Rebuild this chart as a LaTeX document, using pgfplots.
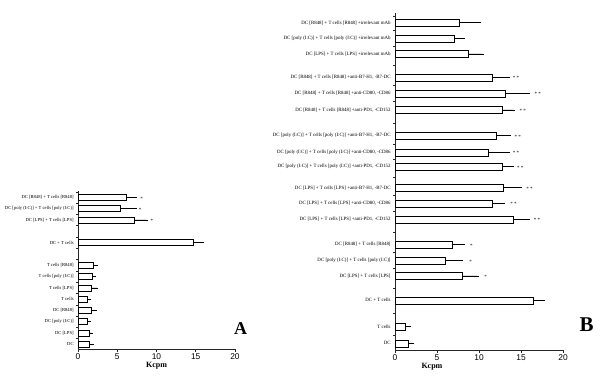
\documentclass[border=0pt]{standalone}
\usepackage{pgfplots}
\pgfplotsset{compat=1.18}
\usepackage{pgfplotstable}
\usepackage{fontspec}
\setmainfont{Liberation Serif}
\setsansfont{Liberation Sans}

\pgfplotstableread{
y v e
4.7 1.45 0.35
16.0 1.4 0.3
27.3 1.2 0.2
38.6 1.7 0.5
49.9 1.2 0.3
61.2 1.7 0.7
72.5 1.8 0.3
83.8 2.0 0.3
106.4 14.7 1.1
129.0 7.2 1.5
140.3 5.4 1.9
151.6 6.1 1.2
}\dataA

\pgfplotstableread{
y v e
6.7 1.6 0.45
23.3 1.2 0.55
49.7 16.5 1.2
74.0 8.0 1.75
89.3 6.0 1.9
105.6 6.8 1.3
130.7 14.1 1.8
146.7 11.6 1.3
162.3 12.9 2.0
183.3 12.8 1.2
197.7 11.1 2.4
214.3 12.0 1.6
240.0 12.75 1.35
256.7 13.1 2.8
272.7 11.6 1.9
296.0 8.75 1.65
311.7 7.0 1.1
327.3 7.6 2.5
}\dataB

\pgfplotsset{
  panel/.style={
    scale only axis, anchor=south west,
    axis lines=left,
    axis line style={-, line width=0.5pt, black!85},
    xmin=0, xmax=20, xtick={0,5,10,15,20}, ymin=0,
    tick align=outside,
    major tick length=3pt, minor tick length=2pt,
    major y tick style={draw=none},
    minor y tick style={draw=black!85, line width=0.4pt},
    major x tick style={draw=black!85, line width=0.5pt},
    /pgf/number format/assume math mode=true,
    xticklabel style={font=\fontsize{8.4}{9}\selectfont\sffamily, inner sep=1.5pt},
    yticklabel style={font=\fontsize{4.6}{5}\selectfont, inner sep=1.2pt},
    xlabel={Kcpm},
    xlabel style={font=\fontsize{8}{9}\selectfont\bfseries, inner sep=1pt},
    clip=false,
  },
  bars/.style={xbar, draw=black, line width=0.5pt, fill=white,
    error bars/.cd, x dir=plus, x explicit,
    error bar style={line width=0.5pt, black},
    error mark options={line width=0.5pt, mark size=1.6pt}},
  stars/.style={only marks, mark=none, nodes near coords, point meta=explicit symbolic,
    nodes near coords style={anchor=center, font=\fontsize{5}{5}\selectfont, yshift=-1pt}},
}

\begin{document}
\begin{tikzpicture}[x=1pt,y=1pt]
\path[use as bounding box] (0,0) rectangle (600,380);

% Panel A
\begin{axis}[panel, at={(78pt,31pt)}, width=157pt, height=158pt, ymax=158,
  ytick={4.7,16.0,27.3,38.6,49.9,61.2,72.5,83.8,106.4,129.0,140.3,151.6},
  yticklabels={{DC},{DC [LPS]},{DC [poly (I:C)]},{DC [R848]},{T cells},{T cells [LPS]},{T cells [poly (I:C)]},{T cells [R848]},{DC + T cells},{DC [LPS] + T cells [LPS]},{DC [poly (I:C)] + T cells [poly (I:C)]},{DC [R848] + T cells [R848]}},
  minor ytick={10.35,21.65,32.95,44.25,55.55,66.85,78.15,89.45,100.75,112.05,123.35,134.65,145.95,157.25},
  bar width=6pt,
]
\addplot[bars] table[x=v, y=y, x error=e] {\dataA};
\addplot[stars] coordinates {(8.1,151.6) [*] (7.9,140.3) [*] (9.4,129.0) [*]};
\end{axis}

% Panel B
\begin{axis}[panel, at={(395pt,30pt)}, width=168pt, height=337pt, ymax=337,
  ytick={6.7,23.3,49.7,74.0,89.3,105.6,130.7,146.7,162.3,183.3,197.7,214.3,240.0,256.7,272.7,296.0,311.7,327.3},
  yticklabels={{DC},{T cells},{DC + T cells},{DC [LPS] + T cells [LPS]},{DC [poly (I:C)] + T cells [poly (I:C)]},{DC [R848] + T cells [R848]},
    {DC [LPS] + T cells [LPS] +anti-PD1, -CD152},{DC [LPS] + T cells [LPS] +anti-CD80, -CD86},{DC [LPS] + T cells [LPS] +anti-B7-H1, -B7-DC},
    {DC [poly (I:C)] + T cells [poly (I:C)] +anti-PD1, -CD152},{DC [poly (I:C)] + T cells [poly (I:C)] +anti-CD80, -CD86},{DC [poly (I:C)] + T cells [poly (I:C)] +anti-B7-H1, -B7-DC},
    {DC [R848] + T cells [R848] +anti-PD1, -CD152},{DC [R848] + T cells [R848] +anti-CD80, -CD86},{DC [R848] + T cells [R848] +anti-B7-H1, -B7-DC},
    {DC [LPS] + T cells [LPS] +irrelevant mAb},{DC [poly (I:C)] + T cells [poly (I:C)] +irrelevant mAb},{DC [R848] + T cells [R848] +irrelevant mAb}},
  yticklabel style={font=\fontsize{4.9}{5}\selectfont, inner sep=1.2pt},
  minor ytick={15,36.5,61.85,81.65,97.45,118.15,138.7,154.5,172.8,190.5,206,227.15,248.35,264.7,284.35,303.85,319.5,334},
  xlabel style={at={(ticklabel cs:0.22)}},
  bar width=7pt,
]
\addplot[bars] table[x=v, y=y, x error=e] {\dataB};
\addplot[stars] coordinates {(9.1,105.6) [*] (9.0,89.3) [*] (10.8,74.0) [*]
  (16.9,130.7) [* *] (14.1,146.7) [* *] (16.0,162.3) [* *]
  (14.9,183.3) [* *] (14.4,197.7) [* *] (14.6,214.3) [* *]
  (15.2,240.0) [* *] (17.0,256.7) [* *] (14.4,272.7) [* *]};
\end{axis}

\node[font=\fontsize{18}{18}\selectfont\bfseries] at (240.5,51) {A};
\node[font=\fontsize{21}{21}\selectfont\bfseries] at (586.5,55) {B};
\end{tikzpicture}
\end{document}
